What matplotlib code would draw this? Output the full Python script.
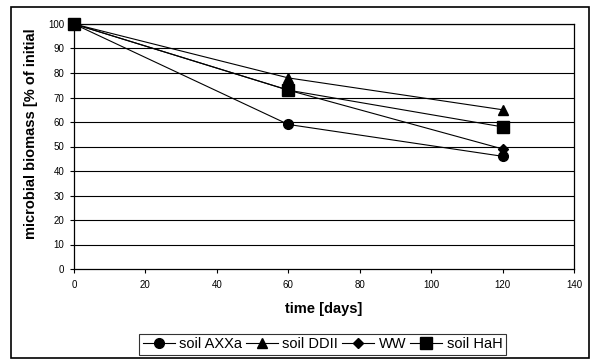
import matplotlib
matplotlib.use("Agg")
import matplotlib.pyplot as plt
from matplotlib.patches import Rectangle

days = [0, 60, 120]
series_names = ["soil AXXa", "soil DDII", "WW", "soil HaH"]
axxa = [100, 59, 46]
ddii = [100, 78, 65]
ww = [100, 73, 49]
hah = [100, 73, 58]
x_ticks = [0, 20, 40, 60, 80, 100, 120, 140]
y_ticks = [0, 10, 20, 30, 40, 50, 60, 70, 80, 90, 100]

plt.rcParams['font.family'] = ['Liberation Sans', 'DejaVu Sans']

W, H = 590, 359
fig = plt.figure(figsize=(W/100, H/100), dpi=100)
ax = fig.add_axes([74/W, 1-269/H, (574-74)/W, (269-24)/H])

# outer frame
fig.patches.append(Rectangle((11/W, 1-358/H), (589-11)/W, (358-7)/H, transform=fig.transFigure,
                             fill=False, edgecolor='black', linewidth=1.2))

for yv in y_ticks[1:]:
    ax.axhline(yv, color='black', linewidth=0.8, zorder=1)

styles = [('o', 7), ('^', 7.5), ('D', 5.5), ('s', 9)]
for name, vals, (m, ms) in zip(series_names, [axxa, ddii, ww, hah], styles):
    ax.plot(days, vals, color='black', linewidth=0.8, marker=m, markersize=ms,
            markerfacecolor='black', markeredgecolor='black', label=name, zorder=3,
            clip_on=False)

ax.set_xlim(0, 140)
ax.set_ylim(0, 100)
ax.set_xticks(x_ticks)
ax.set_yticks(y_ticks)
ax.tick_params(axis='both', direction='out', length=3, width=0.8, labelsize=7)
ax.tick_params(axis='x', pad=5)
ax.tick_params(axis='y', pad=4)
for s in ax.spines.values():
    s.set_linewidth(0.9)

ax.set_xlabel("time [days]", fontsize=10.5, fontweight='bold')
ax.xaxis.set_label_coords(0.5, (269-309)/245)
ax.xaxis.label.set_va('center')
fig.text(31/W, 1-28/H, "microbial biomass [% of initial", rotation=90, fontsize=10.5,
         fontweight='bold', ha='center', va='top')

leg = fig.legend(loc='lower left', bbox_to_anchor=(139/W, 1-355/H, 367/W, 26/H), mode='expand',
                 ncol=4, fontsize=10.5, frameon=True, fancybox=False, edgecolor='black',
                 handlelength=2.2, handletextpad=0.3, columnspacing=0.8, borderpad=0.25,
                 borderaxespad=0)
leg.get_frame().set_linewidth(0.8)

fig.savefig("out.png", dpi=100)
